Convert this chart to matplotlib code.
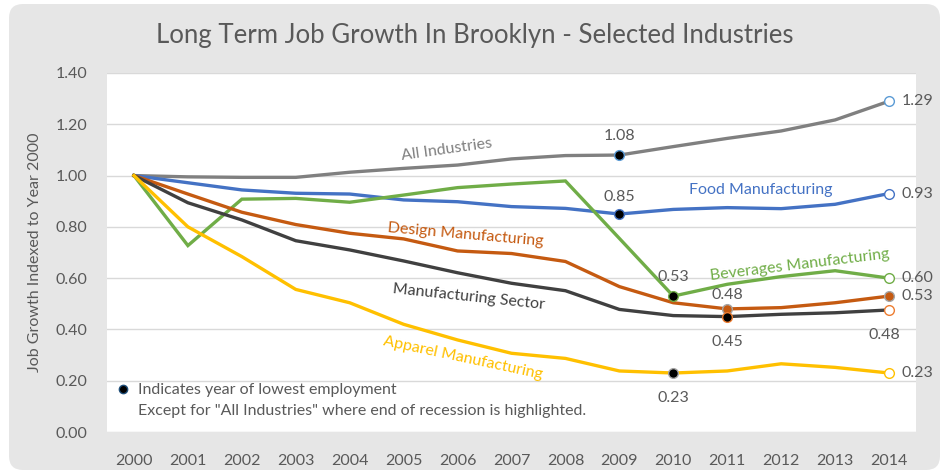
import matplotlib.pyplot as plt
from matplotlib.patches import FancyBboxPatch

plt.rcParams['font.family'] = ['Lato', 'DejaVu Sans']

years = [str(y) for y in range(2000, 2015)]

all_industries = [1.00, 0.995, 0.993, 0.993, 1.013, 1.028, 1.041, 1.065, 1.078, 1.08,
                  1.113, 1.145, 1.174, 1.217, 1.29]
food = [1.00, 0.972, 0.944, 0.931, 0.928, 0.905, 0.898, 0.879, 0.872, 0.85,
        0.868, 0.875, 0.871, 0.888, 0.93]
beverages = [1.00, 0.727, 0.908, 0.911, 0.896, 0.924, 0.953, 0.967, 0.979, 0.755,
             0.53, 0.576, 0.606, 0.629, 0.60]
design = [1.00, 0.928, 0.857, 0.809, 0.775, 0.753, 0.706, 0.696, 0.665, 0.567,
          0.504, 0.48, 0.485, 0.504, 0.53]
mfg_sector = [1.00, 0.894, 0.827, 0.746, 0.710, 0.667, 0.621, 0.580, 0.551, 0.478,
              0.454, 0.45, 0.459, 0.465, 0.476]
apparel = [1.00, 0.80, 0.684, 0.556, 0.504, 0.42, 0.359, 0.307, 0.287, 0.238,
           0.23, 0.238, 0.266, 0.252, 0.23]

TXT = '#595959'
GRID = '#d9d9d9'
BG = '#e6e6e6'

fig = plt.figure(figsize=(9.43, 4.74), dpi=100)
fig.patch.set_facecolor('white')

# rounded grey card behind everything
bg = fig.add_axes([0, 0, 1, 1], zorder=-1)
bg.axis('off')
bg.set_xlim(0, 943)
bg.set_ylim(0, 474)
bg.add_patch(FancyBboxPatch((9, 4), 931, 466,
                            boxstyle='round,pad=0,rounding_size=14',
                            facecolor=BG, edgecolor='none'))

ax = fig.add_axes([107 / 943, 42 / 474, 809 / 943, 359 / 474])
ax.set_facecolor('white')
x = list(range(len(years)))

series = [
    (all_industries, '#808080'),
    (food, '#4472c4'),
    (beverages, '#70ad47'),
    (design, '#c55a11'),
    (mfg_sector, '#404040'),
    (apparel, '#ffc000'),
]
for vals, c in series:
    ax.plot(x, vals, color=c, lw=2.4, solid_joinstyle='miter', zorder=3)

# lowest-employment dots (black fill) and end-of-series circles
def dot(i, vals, fc, ec):
    ax.plot(i, vals[i], 'o', ms=7, mfc=fc, mec=ec, mew=1.0, zorder=5)

dot(9, all_industries, 'black', '#5b9bd5')
dot(9, food, 'black', '#4472c4')
dot(10, beverages, 'black', '#70ad47')
dot(11, design, '#c55a11', '#a5a5a5')
dot(11, mfg_sector, 'black', '#ed7d31')
dot(10, apparel, 'black', '#a5a5a5')
dot(14, all_industries, 'white', '#5b9bd5')
dot(14, food, 'white', '#4472c4')
dot(14, beverages, 'white', '#70ad47')
dot(14, design, '#c55a11', '#a5a5a5')
dot(14, mfg_sector, 'white', '#ed7d31')
dot(14, apparel, 'white', '#ffc000')

lab = dict(color=TXT, fontsize=11.5, zorder=6)
ax.annotate(f'{all_industries[9]:.2f}', (9, all_industries[9]), xytext=(0, 9),
            textcoords='offset points', ha='center', va='bottom', **lab)
ax.annotate(f'{food[9]:.2f}', (9, food[9]), xytext=(0, 7),
            textcoords='offset points', ha='center', va='bottom', **lab)
ax.annotate(f'{beverages[10]:.2f}', (10, beverages[10]), xytext=(0, 9),
            textcoords='offset points', ha='center', va='bottom', **lab)
ax.annotate(f'{design[11]:.2f}', (11, design[11]), xytext=(0, 5),
            textcoords='offset points', ha='center', va='bottom', **lab)
ax.annotate(f'{mfg_sector[11]:.2f}', (11, mfg_sector[11]), xytext=(0, -13),
            textcoords='offset points', ha='center', va='top', **lab)
ax.annotate(f'{mfg_sector[14]:.2f}', (14, mfg_sector[14]), xytext=(-3, -13),
            textcoords='offset points', ha='center', va='top', **lab)
ax.annotate(f'{apparel[10]:.2f}', (10, apparel[10]), xytext=(0, -13),
            textcoords='offset points', ha='center', va='top', **lab)
for vals in (all_industries, food, beverages, design, apparel):
    ax.annotate(f'{vals[14]:.2f}', (14, vals[14]), xytext=(9, 0),
                textcoords='offset points', ha='left', va='center', **lab)

# series names written along the lines
ax.text(5.8, 1.1, 'All Industries', color='#808080', fontsize=11.5,
        rotation=8, ha='center', va='center')
ax.text(11.63, 0.944, 'Food Manufacturing', color='#4472c4', fontsize=11.5,
        ha='center', va='center')
ax.text(6.14, 0.768, 'Design Manufacturing', color='#c55a11', fontsize=11.5,
        rotation=-5, ha='center', va='center')
ax.text(12.34, 0.651, 'Beverages Manufacturing', color='#70ad47', fontsize=11.5,
        rotation=7, ha='center', va='center')
ax.text(6.21, 0.527, 'Manufacturing Sector', color='#404040', fontsize=11.5,
        rotation=-6, ha='center', va='center')
ax.text(6.1, 0.289, 'Apparel Manufacturing', color='#ffc000', fontsize=11.5,
        rotation=-12, ha='center', va='center')

# note in the lower left corner
ax.plot(-0.2, 0.168, 'o', ms=6, mfc='black', mec='#1f4e79', mew=1.0, zorder=5)
ax.text(0.08, 0.162, 'Indicates year of lowest employment', color=TXT,
        fontsize=11.5, ha='left', va='center')
ax.text(0.08, 0.082, 'Except for "All Industries" where end of recession is highlighted.',
        color=TXT, fontsize=11.5, ha='left', va='center')

ax.set_xlim(-0.5, 14.5)
ax.set_ylim(0, 1.4)
ax.set_xticks(x)
ax.set_xticklabels(years)
ax.set_yticks([i * 0.2 for i in range(8)])
ax.set_yticklabels([f'{i * 0.2:.2f}' for i in range(8)])
ax.tick_params(length=0, colors=TXT, labelsize=11.5)
ax.tick_params(axis='x', pad=16)
ax.tick_params(axis='y', pad=14)
for s in ax.spines.values():
    s.set_visible(False)
ax.grid(axis='y', color=GRID, lw=1)
ax.set_axisbelow(True)
ax.set_ylabel('Job Growth Indexed to Year 2000', color=TXT, fontsize=11.5, labelpad=10)

fig.text(475 / 943, 1 - 36 / 474, 'Long Term Job Growth In Brooklyn - Selected Industries',
         color=TXT, fontsize=18.5, ha='center', va='center')

fig.savefig('out.png', dpi=100)
